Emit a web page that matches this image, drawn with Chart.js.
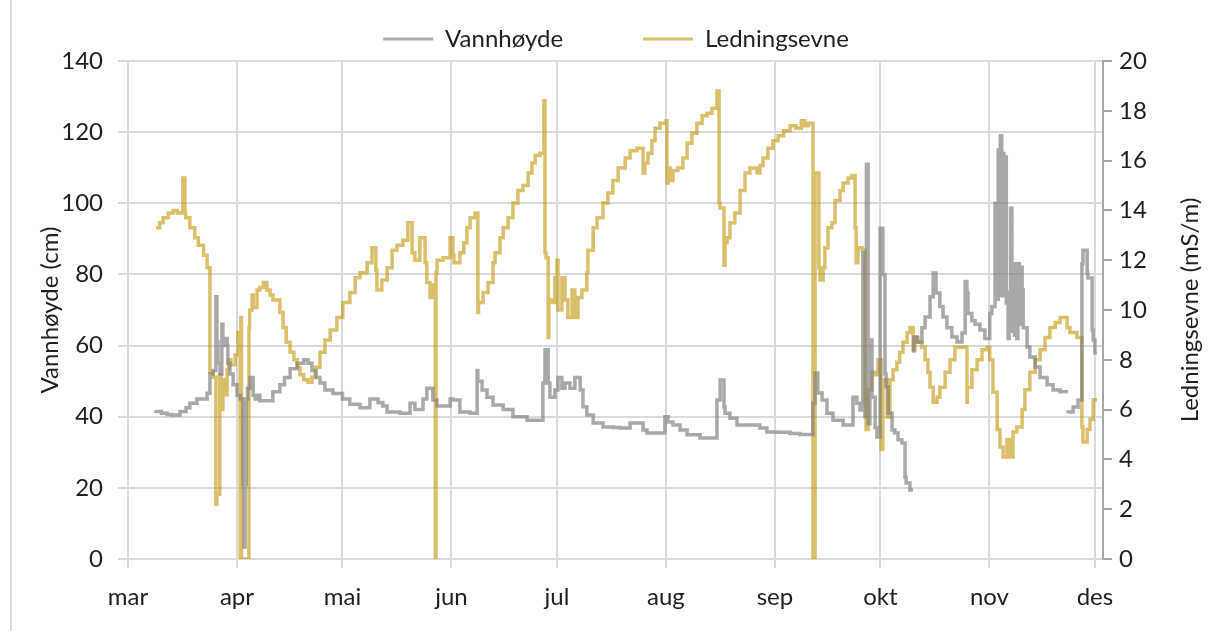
<!DOCTYPE html>
<html>
<head>
<meta charset="utf-8">
<script src="https://cdn.jsdelivr.net/npm/chart.js@4.4.0/dist/chart.umd.min.js"></script>
<style>
  html, body { margin: 0; padding: 0; background: #fff; }
  #wrap { position: relative; width: 1210px; height: 631px; }
  #edge { position: absolute; left: 10px; top: 0; height: 631px; border-left: 2px solid #d9d9d9; }
  canvas { position: absolute; left: 0; top: 0; }
</style>
</head>
<body>
<div id="wrap"><div id="edge"></div><canvas id="chart" width="1210" height="631"></canvas></div>
<script>
// x values are days counted from 1 March
var monthDays = [0, 31, 61, 92, 122, 153, 184, 214, 245, 275];
var monthLabels = ['mar', 'apr', 'mai', 'jun', 'jul', 'aug', 'sep', 'okt', 'nov', 'des'];

// Vannhøyde (cm), null = gap in the record
var vannDays = [
  8.0, 9.5, 11.1, 12.5, 14.8, 16.5, 17.6, 19.6, 22.5, 23.3, 24.2, 25.0, 25.3, 25.6, 26.2, 26.7, 27.0, 27.6, 28.2, 28.4,
  29.0, 29.9, 31.0, 31.9, 32.7, 33.0, 33.3, 33.6, 34.0, 34.7, 35.6, 36.2, 36.7, 37.5, 39.5, 41.2, 43.2, 44.5, 46.1, 48.1,
  50.0, 51.2, 52.3, 53.5, 54.6, 56.0, 58.3, 61.0, 63.1, 66.0, 68.8, 71.1, 72.5, 73.7, 77.4, 80.2, 81.6, 83.9, 85.0, 86.7,
  87.9, 89.6, 91.6, 92.4, 94.4, 97.3, 99.3, 99.5, 100.7, 102.1, 103.8, 106.7, 109.5, 113.5, 116.3, 118.0, 118.6, 119.5, 120.0, 121.4,
  122.3, 123.4, 124.3, 125.7, 127.1, 128.6, 129.4, 130.5, 132.3, 135.1, 137.9, 139.9, 142.8, 146.5, 147.6, 150.5, 152.7, 153.6, 155.0, 157.0,
  159.0, 162.7, 167.5, 168.4, 169.5, 169.8, 171.2, 173.2, 176.1, 179.7, 181.7, 184.6, 188.3, 191.1, 194.8, 195.4, 196.2, 197.4, 198.8, 200.5,
  203.4, 206.2, 207.3, 208.2, 209.0, 209.6, 210.0, 210.5, 211.0, 211.6, 212.5, 213.0, 213.9, 214.7, 215.3, 215.6, 216.2, 217.3, 218.1, 219.0,
  220.1, 221.0, 221.3, 222.4, 223.3, 223.4, 223.5, 224.4, 225.8, 226.7, 228.1, 229.0, 229.8, 230.9, 231.8, 232.9, 234.3, 235.8, 237.2, 238.1,
  238.6, 238.9, 240.0, 240.9, 242.3, 243.7, 245.1, 245.7, 246.6, 247.2, 247.5, 247.8, 248.1, 248.5, 248.8, 249.1, 249.4, 249.8, 250.1, 250.3,
  250.6, 251.0, 251.4, 251.7, 252.1, 252.4, 252.8, 253.1, 253.5, 253.9, 254.3, 254.6, 255.7, 256.5, 258.0, 259.4, 261.4, 263.1, 265.1, 267.3,
  267.35, 267.4, 268.8, 270.2, 271.3, 271.6, 272.8, 273.0, 274.2, 274.5, 275.0, 275.6
];
var vannCm = [
  41.9, 41.5, 41.0, 40.6, 40.5, 41.5, 42.5, 43.8, 45.0, 46.6, 52.0, 53.0, 73.7, 61.0, 55.0, 52.0, 66.0, 60.0, 62.0, 60.0,
  55.0, 52.0, 49.0, 46.0, 45.0, 21.0, 3.4, 21.0, 45.0, 48.0, 51.0, 46.0, 45.0, 46.0, 44.5, 44.5, 47.0, 49.0, 51.0, 53.5,
  55.0, 56.0, 55.0, 53.0, 51.0, 49.5, 47.5, 46.5, 45.0, 43.5, 42.5, 45.0, 44.0, 43.0, 41.3, 41.0, 43.8, 42.0, 45.0, 48.0,
  44.7, 43.0, 43.0, 45.0, 44.7, 41.3, 41.0, 53.0, 50.0, 47.5, 45.5, 43.3, 42.0, 40.0, 39.0, 39.0, 49.5, 58.8, 49.5, 45.5,
  47.5, 51.0, 48.0, 49.5, 48.0, 51.0, 47.5, 42.8, 40.5, 38.2, 37.1, 37.0, 36.8, 38.2, 36.3, 35.4, 35.4, 40.0, 38.5, 37.7,
  36.3, 34.9, 34.0, 44.7, 50.3, 42.7, 41.0, 39.6, 37.7, 37.7, 36.8, 35.7, 35.6, 35.3, 35.0, 43.8, 52.3, 46.7, 44.7, 41.0,
  39.0, 37.7, 45.5, 43.8, 41.9, 86.0, 40.0, 111.0, 38.0, 61.6, 45.5, 37.0, 34.3, 93.0, 80.0, 52.0, 48.4, 41.0, 36.3, 35.4,
  33.5, 32.6, 23.0, 21.4, 19.4, null, 58.0, 62.4, 61.0, 65.0, 68.0, 73.7, 80.4, 74.8, 71.0, 68.0, 65.0, 62.4, 61.0, 63.5,
  78.0, 74.8, 69.0, 67.0, 66.0, 64.4, 62.0, 69.0, 71.0, 100.0, 73.0, 115.0, 76.0, 119.0, 74.0, 114.0, 75.0, 113.0, 72.0, 75.0,
  62.0, 70.0, 98.6, 64.0, 83.0, 63.0, 83.0, 62.0, 83.0, 66.0, 82.0, 75.6, 65.0, 59.6, 56.8, 54.0, 51.0, 49.0, 47.5, 47.0,
  null, 41.0, 41.3, 42.7, 44.7, 83.0, 86.8, 80.4, 79.0, 64.4, 61.6, 58.0
];

// Ledningsevne (mS/m)
var ledDays = [
  8.0, 9.0, 10.0, 11.5, 12.8, 14.0, 15.6, 16.2, 16.4, 17.6, 19.0, 20.0, 21.5, 22.5, 23.3, 24.2, 25.0, 25.3, 26.1, 26.5,
  27.0, 27.6, 28.2, 28.6, 29.3, 30.5, 31.3, 31.9, 32.1, 32.3, 32.7, 34.4, 34.6, 35.3, 35.6, 36.7, 37.5, 38.5, 39.5, 40.4,
  41.2, 43.2, 44.1, 45.0, 46.1, 47.2, 48.1, 48.9, 50.0, 51.2, 52.3, 53.2, 54.6, 56.0, 57.5, 59.4, 61.1, 63.1, 64.6, 66.0,
  68.0, 69.4, 70.5, 70.8, 72.2, 73.7, 75.1, 76.5, 78.2, 79.6, 80.8, 81.6, 83.0, 84.5, 85.0, 85.9, 86.7, 87.4, 87.6, 87.9,
  89.6, 91.6, 92.4, 92.7, 93.6, 94.4, 95.5, 96.4, 97.3, 98.7, 99.5, 99.7, 101.0, 102.4, 103.8, 104.4, 105.8, 106.7, 108.1, 109.5,
  110.9, 112.3, 113.8, 114.9, 115.8, 117.2, 118.3, 118.6, 118.9, 119.5, 119.7, 120.6, 121.4, 122.0, 122.3, 123.4, 124.3, 125.1, 126.3, 127.1,
  128.0, 129.1, 130.5, 130.8, 132.3, 133.4, 135.1, 136.5, 137.9, 139.4, 141.4, 142.8, 144.8, 146.5, 147.0, 147.9, 149.0, 149.9, 151.3, 153.0,
  153.3, 153.6, 154.2, 155.0, 156.4, 157.8, 159.0, 160.4, 161.8, 163.3, 164.7, 166.1, 167.5, 168.1, 168.4, 169.5, 169.8, 170.4, 171.2, 172.6,
  174.1, 175.5, 176.9, 178.9, 179.7, 180.6, 182.0, 183.4, 184.9, 186.5, 188.3, 190.0, 191.5, 192.5, 193.5, 194.8, 195.4, 195.7, 196.5, 196.8,
  197.7, 198.2, 199.1, 200.2, 201.1, 202.5, 203.4, 204.8, 205.9, 206.8, 207.1, 207.6, 208.8, 209.6, 209.9, 210.5, 211.6, 212.5, 213.3, 214.2,
  214.7, 215.9, 216.7, 217.6, 218.7, 219.5, 220.4, 221.6, 222.4, 223.3, 223.8, 224.7, 225.8, 226.7, 227.5, 228.1, 229.0, 230.1, 230.9, 232.4,
  233.8, 235.2, 236.6, 238.6, 238.7, 240.0, 241.5, 242.9, 244.3, 245.1, 246.0, 247.2, 248.0, 248.9, 250.0, 250.9, 251.7, 252.8, 254.3, 255.1,
  256.5, 258.0, 259.4, 260.8, 262.2, 263.7, 265.1, 267.1, 267.9, 269.9, 271.3, 271.6, 272.8, 273.6, 274.5, 275.6
];
var ledMs = [
  13.3, 13.3, 13.5, 13.7, 13.9, 14.0, 13.9, 15.3, 13.9, 13.7, 13.3, 12.9, 12.6, 12.2, 11.7, 7.5, 7.3, 2.2, 2.6, 7.4,
  6.0, 7.2, 6.6, 7.6, 8.0, 7.8, 8.2, 9.1, 0, 9.7, 0, 0, 9.3, 10.0, 10.6, 10.1, 10.8, 10.9, 11.1, 10.8,
  10.6, 10.4, 9.9, 9.3, 8.7, 8.3, 8.0, 7.7, 7.4, 7.2, 7.1, 7.3, 7.7, 8.3, 8.8, 9.2, 9.7, 10.3, 10.7, 11.3,
  11.5, 11.9, 12.5, 11.6, 10.8, 11.2, 11.7, 12.4, 12.6, 12.8, 13.5, 12.3, 12.0, 12.9, 11.9, 11.1, 10.5, 11.0, 0, 11.5,
  12.0, 12.1, 12.9, 12.2, 11.9, 11.9, 12.3, 12.7, 13.3, 13.7, 13.9, 9.9, 10.3, 10.7, 11.1, 11.9, 12.3, 12.9, 13.3, 13.7,
  14.3, 14.8, 15.0, 15.5, 15.9, 16.2, 16.3, 18.4, 12.3, 12.1, 8.9, 10.4, 10.3, 11.3, 12.0, 10.0, 11.3, 10.4, 9.7, 10.8,
  9.7, 10.5, 10.8, 11.5, 12.4, 13.3, 13.7, 14.3, 14.7, 15.2, 15.7, 16.1, 16.4, 16.5, 15.5, 15.9, 16.3, 16.8, 17.3, 17.5,
  17.6, 15.1, 15.7, 15.2, 15.6, 15.7, 16.1, 16.7, 17.1, 17.5, 17.8, 17.9, 18.1, 18.8, 14.3, 14.1, 11.8, 12.7, 12.9, 13.5,
  13.9, 14.8, 15.5, 15.7, 15.5, 15.8, 16.1, 16.5, 16.8, 17.0, 17.2, 17.4, 17.3, 17.6, 17.4, 17.5, 0, 15.5, 15.5, 11.7,
  11.2, 11.7, 12.5, 13.3, 13.5, 14.4, 14.8, 15.1, 15.3, 15.4, 13.3, 11.9, 12.5, 12.4, 6.3, 5.2, 6.8, 7.5, 7.4, 8.0,
  4.4, 7.2, 5.7, 7.2, 7.6, 7.9, 8.3, 8.7, 9.1, 9.3, 8.4, 8.9, 8.7, 8.5, 8.0, 7.5, 6.9, 6.3, 6.5, 6.9,
  7.5, 8.0, 8.5, 8.5, 6.3, 6.9, 7.6, 8.0, 8.4, 8.5, 8.0, 6.7, 5.2, 4.5, 4.1, 4.8, 4.1, 5.1, 5.3, 6.0,
  6.8, 7.5, 8.0, 8.4, 8.9, 9.3, 9.5, 9.7, 9.3, 9.1, 8.9, 5.3, 4.7, 5.2, 5.6, 6.4
];

var textColor = '#1f1f1f';
Chart.defaults.font.family = 'Lato';
Chart.defaults.font.size = 24;
Chart.defaults.color = textColor;

// right axis title reads bottom-to-top, so draw it here
var rightTitle = {
  id: 'rightTitle',
  afterDraw: function(chart) {
    var ctx = chart.ctx;
    var area = chart.chartArea;
    ctx.save();
    ctx.translate(chart.scales.y1.right - 20, (area.top + area.bottom) / 2);
    ctx.rotate(-Math.PI / 2);
    ctx.font = '24px Lato';
    ctx.fillStyle = textColor;
    ctx.textAlign = 'center';
    ctx.textBaseline = 'middle';
    ctx.fillText('Ledningsevne (mS/m)', 0, 0);
    ctx.restore();
  }
};

function points(xs, ys) {
  return xs.map(function(x, i) { return {x: x, y: ys[i]}; });
}

new Chart(document.getElementById('chart'), {
  type: 'line',
  data: {
    datasets: [{
      label: 'Vannhøyde',
      data: points(vannDays, vannCm),
      yAxisID: 'y',
      borderColor: 'rgba(127,127,127,0.68)',
      backgroundColor: 'rgba(127,127,127,0.68)',
      borderWidth: 3.5,
      pointRadius: 0,
      stepped: 'after',
      order: 1
    }, {
      label: 'Ledningsevne',
      data: points(ledDays, ledMs),
      yAxisID: 'y1',
      borderColor: 'rgba(191,144,0,0.58)',
      backgroundColor: 'rgba(191,144,0,0.58)',
      borderWidth: 3.5,
      pointRadius: 0,
      stepped: 'after',
      order: 2
    }]
  },
  options: {
    responsive: false,
    animation: false,
    devicePixelRatio: 1,
    layout: { padding: { top: -53, left: 22, right: 0, bottom: 0 } },
    plugins: {
      tooltip: { enabled: false },
      legend: {
        position: 'top',
        labels: {
          boxWidth: 50,
          boxHeight: 3,
          padding: 80,
          generateLabels: function(chart) {
            return Chart.defaults.plugins.legend.labels.generateLabels(chart).map(function(item) {
              item.lineWidth = 0;
              item.fillStyle = item.strokeStyle;
              return item;
            });
          }
        }
      }
    },
    scales: {
      x: {
        type: 'linear',
        min: 0,
        max: 277.3,
        afterBuildTicks: function(scale) {
          scale.ticks = monthDays.map(function(d) { return {value: d}; });
        },
        ticks: {
          autoSkip: false,
          maxRotation: 0,
          padding: 15,
          callback: function(value, index) { return monthLabels[index]; }
        },
        grid: { color: '#d9d9d9', lineWidth: 2, tickLength: 9 },
        border: { color: '#d9d9d9', width: 2 },
        afterFit: function(scale) { scale.height = 72; }
      },
      y: {
        position: 'left',
        min: 0,
        max: 140,
        ticks: { stepSize: 20, padding: 15 },
        grid: { color: '#d9d9d9', lineWidth: 2, tickLength: 10 },
        border: { color: '#d9d9d9', width: 2 },
        title: { display: true, text: 'Vannhøyde (cm)', padding: { top: 14, bottom: 0 } },
        afterFit: function(scale) { scale.width = 106; }
      },
      y1: {
        position: 'right',
        min: 0,
        max: 20,
        ticks: { stepSize: 2, padding: 7 },
        grid: { drawOnChartArea: false, color: '#a6a6a6', lineWidth: 2, tickLength: 9 },
        border: { color: '#a6a6a6', width: 2 },
        afterFit: function(scale) { scale.width = 107; }
      }
    }
  },
  plugins: [rightTitle]
});
</script>
</body>
</html>
